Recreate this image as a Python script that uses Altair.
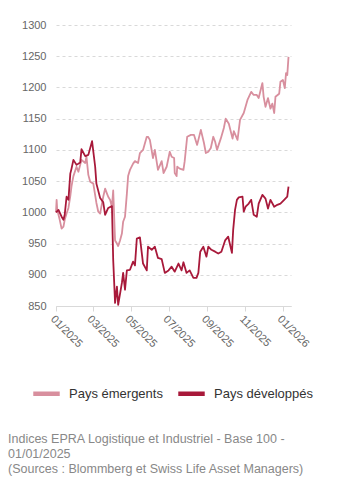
import altair as alt
import pandas as pd

# Days since 2025-01-01 and index values (base 1000)
emerg_days = [0, 1, 2, 6, 9, 12, 14, 17, 20, 23, 25, 28, 33, 36, 41, 47, 49, 52, 55, 60,
              65, 68, 71, 73, 76, 79, 82, 84, 87, 90, 92, 95, 98, 100, 103, 106, 108, 111,
              114, 116, 119, 124, 127, 132, 135, 140, 146, 148, 151, 156, 159, 164, 170,
              173, 178, 183, 186, 190, 191, 194, 195, 199, 205, 207, 211, 217, 222, 227,
              233, 238, 241, 245, 249, 253, 256, 259, 265, 270, 273, 278, 284, 286, 292,
              296, 302, 308, 314, 318, 323, 326, 332, 334, 337, 341, 345, 348, 351, 353,
              359, 361, 365, 368, 370, 372, 374]
emerg_vals = [1000, 1020, 1004, 988, 974, 977, 988, 998, 1007, 1026, 1042, 1058, 1073, 1065,
              1084, 1079, 1089, 1060, 1049, 1046, 1015, 1001, 998, 1009, 1025, 1038, 1030,
              1025, 1020, 1009, 1035, 955, 950, 946, 955, 966, 985, 993, 1030, 1058, 1068,
              1078, 1082, 1079, 1095, 1100, 1121, 1121, 1116, 1087, 1100, 1068, 1082, 1063,
              1073, 1097, 1089, 1087, 1063, 1058, 1073, 1070, 1068, 1082, 1121, 1124, 1124,
              1108, 1132, 1111, 1095, 1097, 1103, 1121, 1113, 1100, 1118, 1135, 1150, 1142,
              1118, 1130, 1116, 1148, 1159, 1180, 1193, 1188, 1188, 1183, 1207, 1185, 1169,
              1183, 1166, 1174, 1159, 1185, 1190, 1209, 1212, 1199, 1223, 1220, 1249]

dev_days = [0, 4, 9, 12, 14, 17, 20, 23, 25, 28, 33, 39, 41, 47, 52, 58, 63, 65, 71, 76,
            79, 84, 90, 92, 95, 98, 100, 106, 108, 111, 114, 119, 124, 127, 130, 135, 140,
            146, 148, 154, 159, 164, 170, 175, 181, 186, 191, 197, 202, 205, 210, 215, 221,
            226, 229, 232, 237, 242, 245, 250, 256, 261, 266, 272, 277, 283, 285, 288, 291,
            294, 300, 302, 305, 310, 314, 318, 323, 326, 332, 337, 341, 345, 351, 356, 361,
            367, 372, 374]
dev_vals = [1000, 1004, 993, 988, 996, 1025, 1020, 1062, 1070, 1084, 1076, 1080, 1101, 1090,
            1092, 1114, 1073, 1046, 1023, 1016, 996, 1007, 1010, 924, 855, 881, 852, 887, 903,
            876, 907, 908, 921, 915, 958, 960, 918, 907, 945, 940, 945, 927, 925, 903, 907,
            913, 905, 918, 907, 920, 903, 907, 895, 895, 903, 937, 945, 929, 945, 940, 937,
            934, 937, 955, 961, 935, 972, 1004, 1020, 1024, 1025, 1001, 1009, 1014, 1020, 996,
            993, 1014, 1028, 1022, 1006, 1020, 1009, 1012, 1014, 1020, 1025, 1041]

series_names = ["Pays émergents", "Pays développés"]
series_colors = ["#d88f9e", "#a8193a"]
tick_dates = ["2025-01-01", "2025-03-01", "2025-05-01", "2025-07-01",
              "2025-09-01", "2025-11-01", "2026-01-01"]
caption_lines = ["Indices EPRA Logistique et Industriel - Base 100 -",
                 "01/01/2025",
                 "(Sources : Blommberg et Swiss Life Asset Managers)"]

base = pd.Timestamp("2025-01-01")
rows = []
for d, v in zip(emerg_days, emerg_vals):
    rows.append({"date": (base + pd.Timedelta(days=d)).strftime("%Y-%m-%dT00:00:00"),
                 "value": v, "serie": series_names[0], "o": 0})
for d, v in zip(dev_days, dev_vals):
    rows.append({"date": (base + pd.Timedelta(days=d)).strftime("%Y-%m-%dT00:00:00"),
                 "value": v, "serie": series_names[1], "o": 1})
df = pd.DataFrame(rows)

tick_vals = [alt.DateTime(year=int(t[:4]), month=int(t[5:7]), date=1) for t in tick_dates]

chart = alt.Chart(df).mark_line(strokeWidth=1.8, strokeJoin="round").encode(
    x=alt.X("date:T",
            scale=alt.Scale(domain=[alt.DateTime(year=2025, month=1, date=1),
                                    alt.DateTime(year=2026, month=1, date=14)]),
            axis=alt.Axis(values=tick_vals, format="%m/%Y", labelAngle=45,
                          labelAlign="left", labelBaseline="top", grid=False,
                          domainColor="#d9d9d9", tickColor="#d9d9d9", tickSize=5,
                          labelColor="#666666", labelFontSize=11, labelPadding=2,
                          labelFont="Liberation Sans", title=None)),
    y=alt.Y("value:Q",
            scale=alt.Scale(domain=[850, 1300], nice=False, zero=False),
            axis=alt.Axis(values=list(range(850, 1301, 50)), format="d", grid=True,
                          gridDash=[3, 3], gridColor="#d9d9d9", domain=False,
                          ticks=False, labelColor="#666666", labelFontSize=11,
                          labelPadding=10, labelFont="Liberation Sans", title=None)),
    color=alt.Color("serie:N",
                    scale=alt.Scale(domain=series_names, range=series_colors),
                    legend=alt.Legend(orient="none", legendX=-25, legendY=353,
                                      direction="horizontal", title=None,
                                      symbolType="stroke", symbolStrokeWidth=4.5,
                                      symbolSize=700, labelFontSize=13,
                                      labelColor="#333333", labelFont="Liberation Sans",
                                      columnPadding=6, labelOffset=7)),
    order=alt.Order("o:Q"),
    detail="serie:N",
).properties(
    width=235, height=281,
    autosize=alt.AutoSizeParams(type="none"),
    padding={"left": 56, "top": 25, "right": 57, "bottom": 183},
    title=alt.TitleParams(text=caption_lines, orient="bottom", anchor="start",
                          frame="group", dx=-48, offset=30, fontSize=12.5,
                          font="Liberation Sans", fontWeight="normal",
                          color="#888888", lineHeight=15),
).configure_view(stroke=None)

chart.save("out.html", embed_options={"renderer": "svg", "actions": False})
